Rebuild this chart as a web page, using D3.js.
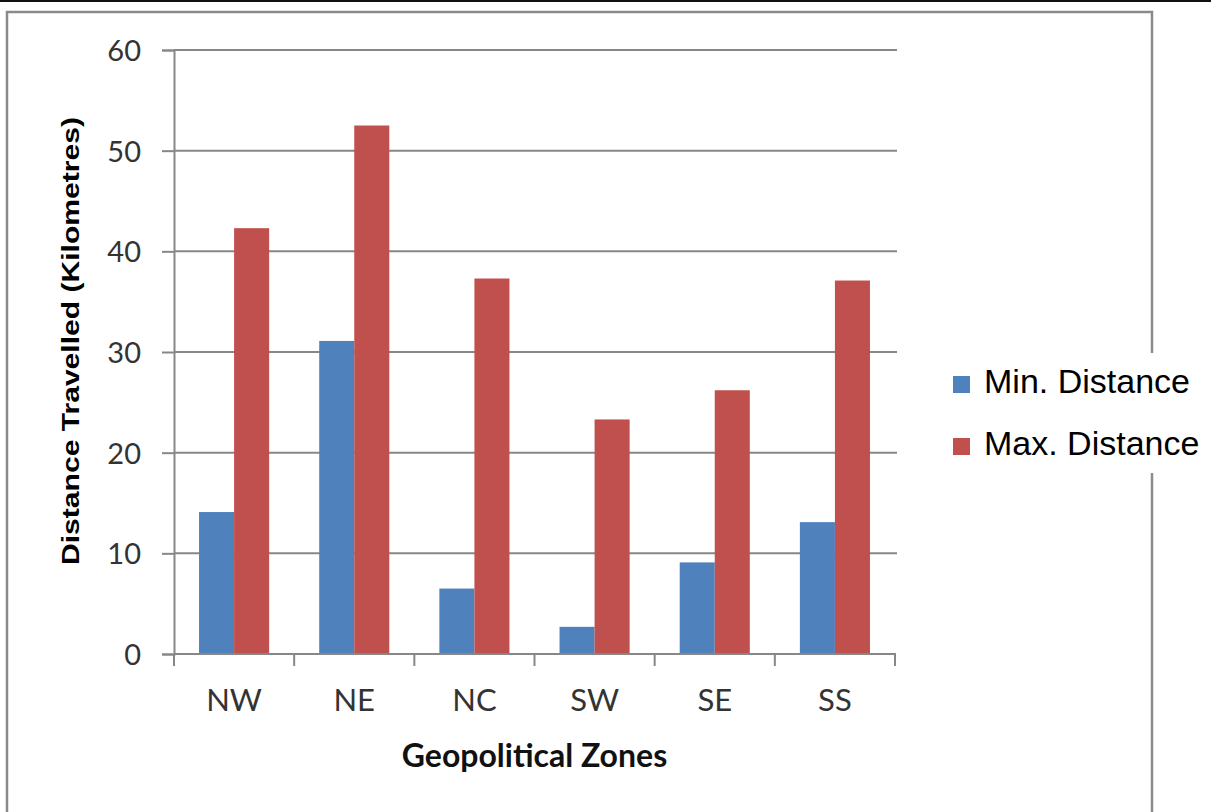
<!DOCTYPE html>
<html>
<head>
<meta charset="utf-8">
<script src="https://cdn.jsdelivr.net/npm/d3@7/dist/d3.min.js"></script>
<style>
  html, body { margin: 0; padding: 0; background: #fff; }
  svg { display: block; }
</style>
</head>
<body>
<svg id="chart" width="1211" height="812"></svg>
<script>
// Zones and their min / max travel distances (km)
const zones = ["NW", "NE", "NC", "SW", "SE", "SS"];
const minDistance = [14.1, 31.1, 6.5, 2.7, 9.1, 13.1];
const maxDistance = [42.3, 52.5, 37.3, 23.3, 26.2, 37.1];
const seriesNames = ["Min. Distance", "Max. Distance"];
const seriesColors = ["#4F81BD", "#C0504D"];
const yTicks = [0, 10, 20, 30, 40, 50, 60];

const svg = d3.select("#chart");
const W = 1211, H = 812;

// Frame: thin dark rule at the very top, grey chart border below it
svg.append("rect").attr("x", 0).attr("y", 0).attr("width", W).attr("height", 2).attr("fill", "#111");
svg.append("rect")
  .attr("x", 7).attr("y", 12).attr("width", 1145).attr("height", 830)
  .attr("fill", "#fff").attr("stroke", "#8a8a8a").attr("stroke-width", 2.5);

const plot = { left: 174, right: 895, top: 50, bottom: 654 };

const x = d3.scaleBand()
  .domain(zones)
  .range([plot.left, plot.right])
  .paddingInner(0.4167)
  .paddingOuter(0.4167 / 2);

const xSeries = d3.scaleBand()
  .domain(seriesNames)
  .range([0, x.bandwidth()]);

const y = d3.scaleLinear().domain([0, 60]).range([plot.bottom, plot.top]);

const gridColor = "#878787";

// Horizontal gridlines
svg.append("g")
  .selectAll("line")
  .data(yTicks.filter(d => d > 0))
  .join("line")
  .attr("x1", plot.left).attr("x2", plot.right + 2)
  .attr("y1", d => y(d)).attr("y2", d => y(d))
  .attr("stroke", gridColor).attr("stroke-width", 2);

// Bars
const rows = zones.map((z, i) => ({ zone: z, values: [minDistance[i], maxDistance[i]] }));
svg.append("g")
  .selectAll("g")
  .data(rows)
  .join("g")
  .attr("transform", d => `translate(${x(d.zone)},0)`)
  .selectAll("rect")
  .data(d => d.values.map((v, k) => ({ name: seriesNames[k], value: v, color: seriesColors[k] })))
  .join("rect")
  .attr("x", d => xSeries(d.name))
  .attr("width", xSeries.bandwidth())
  .attr("y", d => y(d.value))
  .attr("height", d => y(0) - y(d.value))
  .attr("fill", d => d.color);

// Y axis
const yAxis = d3.axisLeft(y).tickValues(yTicks).tickSize(12).tickPadding(21).tickFormat(d3.format("d"));
const gy = svg.append("g").attr("transform", `translate(${plot.left},0)`).call(yAxis);
gy.select(".domain").attr("stroke", gridColor).attr("stroke-width", 2);
gy.selectAll(".tick line").attr("stroke", gridColor).attr("stroke-width", 2);
gy.selectAll(".tick text")
  .attr("font-family", "Lato, 'Open Sans', sans-serif")
  .attr("font-size", 29).attr("fill", "#333").attr("dy", "0.36em");

// X axis: ticks at category boundaries
const gx = svg.append("g").attr("transform", `translate(0,${plot.bottom})`);
gx.append("line")
  .attr("x1", plot.left).attr("x2", plot.right + 1)
  .attr("y1", 0).attr("y2", 0)
  .attr("stroke", gridColor).attr("stroke-width", 2);
const boundaries = zones.map(z => x(z) - x.step() * x.paddingInner() / 2)
  .concat([x(zones[zones.length - 1]) + x.bandwidth() + x.step() * x.paddingInner() / 2]);
gx.selectAll("line.tk")
  .data(boundaries)
  .join("line")
  .attr("class", "tk")
  .attr("x1", d => d).attr("x2", d => d)
  .attr("y1", 0).attr("y2", 12)
  .attr("stroke", gridColor).attr("stroke-width", 2);
gx.selectAll("text")
  .data(zones)
  .join("text")
  .attr("x", d => x(d) + x.bandwidth() / 2)
  .attr("y", 57)
  .attr("text-anchor", "middle")
  .attr("font-family", "Lato, 'Open Sans', sans-serif")
  .attr("font-size", 31).attr("fill", "#333")
  .text(d => d);

// Axis titles
svg.append("text")
  .attr("x", (plot.left + plot.right) / 2)
  .attr("y", 767)
  .attr("text-anchor", "middle")
  .attr("font-family", "Lato, 'Open Sans', sans-serif")
  .attr("font-weight", "bold")
  .attr("font-size", 32).attr("fill", "#111")
  .text("Geopolitical Zones");

svg.append("text")
  .attr("transform", `translate(79,${(117 + 565) / 2}) rotate(-90)`)
  .attr("text-anchor", "middle")
  .attr("font-family", "'Liberation Sans', Arial, sans-serif")
  .attr("font-weight", "bold")
  .attr("font-size", 23).attr("fill", "#000")
  .attr("textLength", 448).attr("lengthAdjust", "spacingAndGlyphs")
  .text("Distance Travelled (Kilometres)");

// Legend (its white box interrupts the chart border)
const legend = svg.append("g");
legend.append("rect")
  .attr("x", 935).attr("y", 353).attr("width", W - 935).attr("height", 120)
  .attr("fill", "#fff");
const items = legend.selectAll("g.item")
  .data(seriesNames)
  .join("g")
  .attr("class", "item")
  .attr("transform", (d, i) => `translate(953,${376 + i * 62})`);
items.append("rect")
  .attr("width", 17).attr("height", 17)
  .attr("fill", (d, i) => seriesColors[i]);
items.append("text")
  .attr("x", 31).attr("y", 17)
  .attr("font-family", "'Liberation Sans', Arial, sans-serif")
  .attr("font-size", 34).attr("fill", "#000")
  .text(d => d);
</script>
</body>
</html>
